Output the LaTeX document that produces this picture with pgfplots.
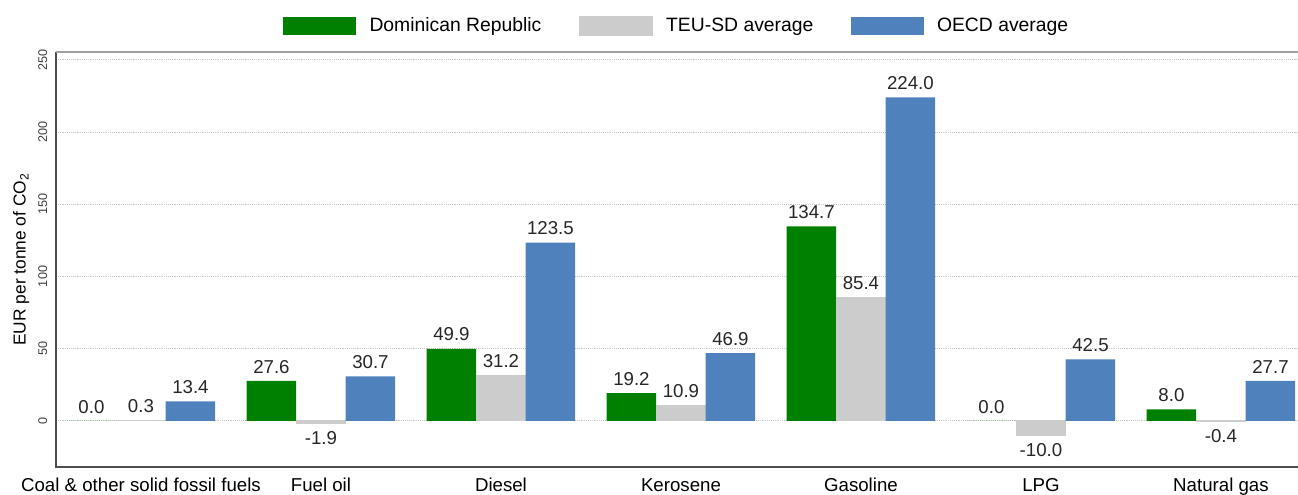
\documentclass[border=0pt]{standalone}
\usepackage{fontspec}
\setmainfont{Liberation Sans}
\usepackage{pgfplots}
\pgfplotsset{compat=1.18}
\usetikzlibrary{calc}
\definecolor{drgreen}{HTML}{008000}
\definecolor{teugray}{HTML}{CCCCCC}
\definecolor{oecdblue}{HTML}{4F81BD}
\begin{document}
\begin{tikzpicture}
\begin{axis}[
  scale only axis,
  width=931.5pt, height=311.25pt,
  ybar=0pt, bar width=0.275,
  xmin=-0.472, xmax=6.428,
  ymin=-32, ymax=255.5,
  xtick={0,...,6},
  xticklabels={Coal \& other solid fossil fuels, Fuel oil, Diesel, Kerosene, Gasoline, LPG, Natural gas},
  ytick={0,50,...,250},
  major tick length=0pt,
  ymajorgrids,
  major grid style={densely dotted, gray!45, line width=0.7pt},
  axis line style={draw=none},
  xticklabel style={font=\fontsize{14}{16}\selectfont, text height=11pt, text depth=3pt, yshift=-4pt},
  yticklabel style={rotate=90, anchor=south, font=\fontsize{9.5}{11}\selectfont, text=black!75},
  yticklabel shift=3pt,
  /pgf/number format/assume math mode=true,
  ylabel={EUR per tonne of CO\textsubscript{2}},
  ylabel style={font=\fontsize{13}{15}\selectfont},
  nodes near coords={\pgfmathprintnumber[fixed,fixed zerofill,precision=1]{\pgfplotspointmeta}},
  nodes near coords align=vertical,
  nodes near coords style={font=\fontsize{14}{16}\selectfont, text=black!85, inner sep=5.5pt},
  clip=false,
  legend style={at={(0.5,1)}, anchor=center, yshift=19.5pt, legend columns=3, draw=none, fill=none,
    font=\fontsize{14.5}{16}\selectfont,
    /tikz/every odd column/.append style={column sep=8pt},
    /tikz/every even column/.append style={column sep=26pt}},
  legend cell align=left,
  legend image code/.code={\fill[#1] (0pt,-7.1pt) rectangle (54.75pt,7.1pt);},
]
\addplot[fill=drgreen, draw=none] coordinates {
 (0,0.0) (1,27.6) (2,49.9) (3,19.2) (4,134.7) (5,0.0) (6,8.0)};
\addplot[fill=teugray, draw=teugray, line width=0.8pt] coordinates {
 (0,0.3) (1,-1.9) (2,31.2) (3,10.9) (4,85.4) (5,-10.0) (6,-0.4)};
\addplot[fill=oecdblue, draw=none] coordinates {
 (0,13.4) (1,30.7) (2,123.5) (3,46.9) (4,224.0) (5,42.5) (6,27.7)};
\legend{Dominican Republic, TEU-SD average, OECD average}
\draw[black!70, line width=1.4pt] (rel axis cs:0,1) -- (rel axis cs:0,0) -- (rel axis cs:1,0);
\draw[gray!75, line width=1.2pt] (rel axis cs:0,1) -- (rel axis cs:1,1);
\end{axis}
\pgfresetboundingbox
\path ($(current axis.south west)+(-42pt,-21pt)$) rectangle ++(973.5pt,371.25pt);
\end{tikzpicture}
\end{document}
